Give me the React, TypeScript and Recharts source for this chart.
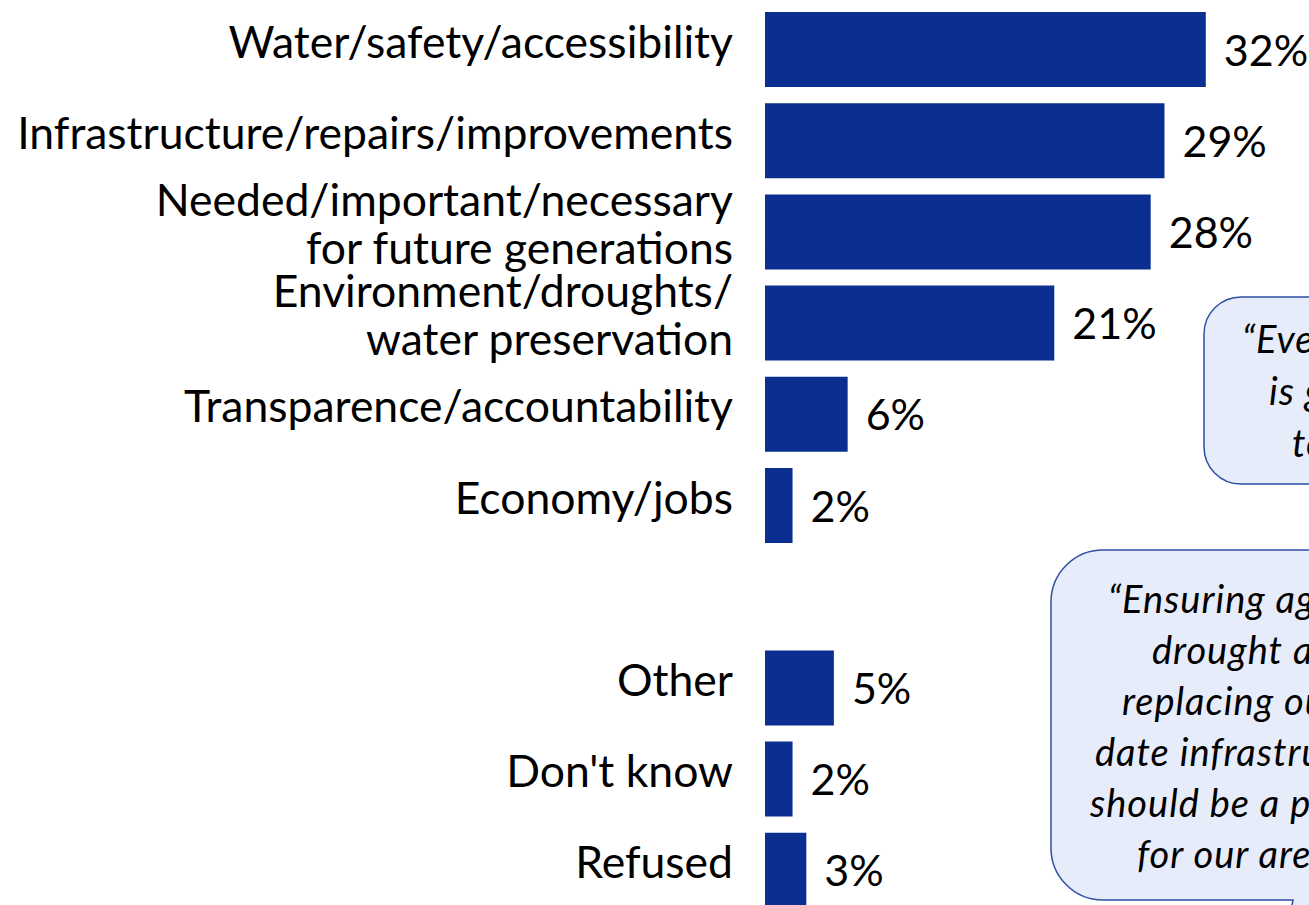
import React from 'react';
import { BarChart, Bar, XAxis, YAxis, LabelList } from 'recharts';

const categories = [
  'Water/safety/accessibility',
  'Infrastructure/repairs/improvements',
  'Needed/important/necessary\nfor future generations',
  'Environment/droughts/\nwater preservation',
  'Transparence/accountability',
  'Economy/jobs',
  ' ',
  'Other',
  "Don't know",
  'Refused',
];

const shares = [32, 29, 28, 21, 6, 2, null, 5, 2, 3];

const quoteTop = ['\u201CEveryone deserves', 'is going to be', 'to us.\u201D'];
const quoteBottom = [
  '\u201CEnsuring against',
  'drought and',
  'replacing out of',
  'date infrastructure',
  'should be a priority',
  'for our area.\u201D',
];

const data = categories.map((name, i) => ({ name, value: shares[i] }));

const FONT = 'Lato, "Noto Sans", sans-serif';
const BAR = '#0A2F91';

function CategoryTick(props: any) {
  const { x, y, payload } = props;
  const lines = String(payload.value).split('\n');
  const mid = (lines.length - 1) / 2;
  return (
    <text x={x} y={y} textAnchor="end" fontFamily={FONT} fontSize={44.5} fill="#000">
      {lines.map((line, i) => (
        <tspan key={i} x={x} y={y + 8 + (i - mid) * 48}>
          {line}
        </tspan>
      ))}
    </text>
  );
}

function ValueLabel(props: any) {
  const box = props.viewBox ?? props;
  const { value } = props;
  if (value === null || value === undefined) return null;
  const x = box.x + box.width + 18;
  const y = box.y + box.height / 2 + 16;
  return (
    <text x={x} y={y} fontFamily={FONT} fontSize={43} fill="#000">
      {value}%
    </text>
  );
}

function Callouts() {
  return (
    <svg
      width={1309}
      height={905}
      style={{ position: 'absolute', left: 0, top: 0, pointerEvents: 'none' }}
    >
      <rect x={1204} y={297} width={320} height={187} rx={37} ry={37} fill="#E7ECFA" stroke="#2E4FA3" strokeWidth={1.5} />
      <path
        d="M 1103 550 H 1520 V 900 H 1340 L 1280 970 L 1293 900 H 1103 A 52 52 0 0 1 1051 848 V 602 A 52 52 0 0 1 1103 550 Z"
        fill="#E7ECFA"
        stroke="#2E4FA3"
        strokeWidth={1.5}
      />
      <g fontFamily={FONT} fontSize={38} fontStyle="italic" letterSpacing={1} fill="#000">
        {quoteTop.map((line, i) => (
          <text key={i} x={[1242, 1269, 1292][i]} y={353 + i * 52}>
            {line}
          </text>
        ))}
        {quoteBottom.map((line, i) => (
          <text key={i} x={[1108, 1152, 1122, 1095, 1090, 1137][i]} y={613 + i * 51}>
            {line}
          </text>
        ))}
      </g>
    </svg>
  );
}

export default function App() {
  return (
    <div
      style={{
        position: 'absolute',
        left: 0,
        top: 0,
        width: 1309,
        height: 905,
        overflow: 'hidden',
        background: '#fff',
        fontFamily: FONT,
      }}
    >
      <BarChart
        layout="vertical"
        width={1316}
        height={916}
        data={data}
        margin={{ top: 4, right: 0, bottom: 0, left: 0 }}
      >
        <XAxis type="number" domain={[0, 40]} hide />
        <YAxis
          type="category"
          dataKey="name"
          width={765}
          interval={0}
          axisLine={false}
          tickLine={false}
          tickSize={0}
          tickMargin={32}
          tick={<CategoryTick />}
        />
        <Bar dataKey="value" fill={BAR} barSize={75} isAnimationActive={false}>
          <LabelList dataKey="value" content={<ValueLabel />} />
        </Bar>
      </BarChart>
      <Callouts />
    </div>
  );
}
